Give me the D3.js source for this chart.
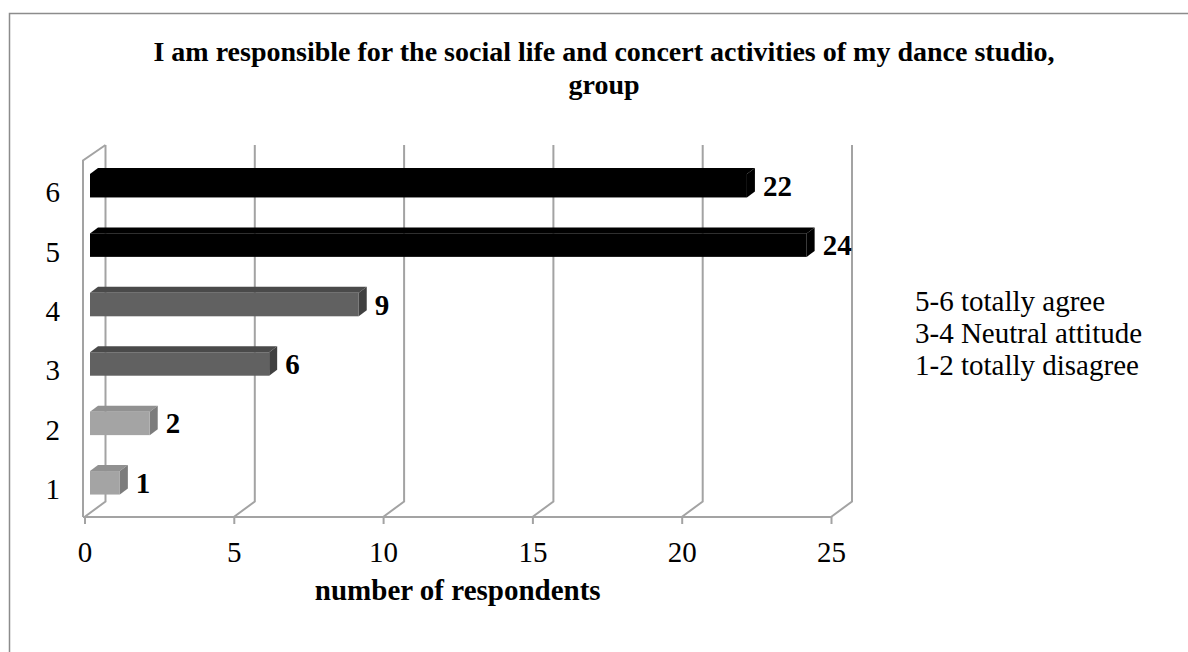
<!DOCTYPE html>
<html>
<head>
<meta charset="utf-8">
<script src="https://cdn.jsdelivr.net/npm/d3@7"></script>
<style>
    html, body { margin: 0; padding: 0; background: #fff; }
    svg { display: block; font-family: "Liberation Serif", "Times New Roman", serif; }
</style>
</head>
<body>
<div id="chart"></div>
<script>
const categories = ["1", "2", "3", "4", "5", "6"]
const values = [1, 2, 6, 9, 24, 22]
const groups = ["disagree", "disagree", "neutral", "neutral", "agree", "agree"]
const xTicks = [0, 5, 10, 15, 20, 25]
const titleLines = ["I am responsible for the social life and concert activities of my dance studio,", "group"]
const xTitle = "number of respondents"
const legendLines = ["5-6 totally agree", "3-4 Neutral attitude", "1-2 totally disagree"]

const width = 1188
const height = 652

// faces: front, top, side
const faceColors = {
    agree: ["#000000", "#000000", "#000000"],
    neutral: ["#616161", "#4a4a4a", "#404040"],
    disagree: ["#a4a4a4", "#919191", "#7c7c7c"],
}

const gridColor = "#a3a3a3"

// --- 3D geometry ---
const floorY = 517
const frontTop = 160.5
const depth = { x: 21, y: -15.5 } // wall / floor depth
const barOffset = { x: 5.5, y: -4.5 } // front of bar inside the depth
const barDepth = { x: 8, y: -6 }
const barHeight = 23.5

const x = d3.scaleLinear().domain([0, 25]).range([84.5, 831])
const y = d3.scaleBand().domain(categories).range([floorY, frontTop])

const svg = d3.select("#chart").append("svg").attr("width", width).attr("height", height)

// chart frame (runs off the right and bottom edges)
svg.append("rect")
    .attr("x", 9.5).attr("y", 13.5)
    .attr("width", 1190).attr("height", 660)
    .attr("fill", "none").attr("stroke", "#8c8c8c").attr("stroke-width", 1.5)

const grid = svg.append("g")
    .attr("fill", "none")
    .attr("stroke", gridColor)
    .attr("stroke-width", 2)

// left wall
grid.append("path")
    .attr("d", `M${x(0) - 1.5},${floorY} V${frontTop} L${x(0) + depth.x},${frontTop + depth.y}`)

// back wall gridlines plus floor diagonals
xTicks.forEach((t) => {
    const fx = x(t)
    grid.append("path")
        .attr("d", `M${fx},${floorY} L${fx + depth.x},${floorY + depth.y} V${frontTop + depth.y}`)
})

// floor front edge
grid.append("line")
    .attr("x1", x(0) - 1.5).attr("x2", x(25))
    .attr("y1", floorY).attr("y2", floorY)

// x axis ticks + labels
const xAxis = d3.axisBottom(x).tickValues(xTicks).tickSize(7).tickPadding(17).tickFormat(d3.format("d"))
const xAxisG = svg.append("g").attr("transform", `translate(0,${floorY})`).call(xAxis)
xAxisG.select(".domain").remove()
xAxisG.selectAll(".tick line").attr("stroke", gridColor).attr("stroke-width", 2)
xAxisG.selectAll(".tick text")
    .attr("fill", "#000")
    .style("font-family", "'Liberation Serif', 'Times New Roman', serif")
    .style("font-size", "29px")

// y labels
svg.append("g").selectAll("text")
    .data(categories)
    .enter()
    .append("text")
    .attr("x", 60)
    .attr("y", (d) => y(d) + y.bandwidth() / 2 + 12)
    .attr("text-anchor", "end")
    .style("font-size", "29px")
    .text((d) => d)

// bars
const barData = categories.map((c, i) => ({ cat: c, val: values[i], group: groups[i] }))

const bars = svg.append("g").selectAll("g")
    .data(barData)
    .enter()
    .append("g")

const frontBox = (d) => {
    const x0 = x(0) + barOffset.x
    const x1 = x(d.val) + barOffset.x
    const yc = y(d.cat) + y.bandwidth() / 2 + barOffset.y
    return { x0, x1, y0: yc - barHeight / 2, y1: yc + barHeight / 2 }
}

const pts = (arr) => arr.map((p) => p.join(",")).join(" ")

bars.append("polygon")
    .attr("fill", (d) => faceColors[d.group][1])
    .attr("points", (d) => {
        const b = frontBox(d)
        return pts([[b.x0, b.y0], [b.x1, b.y0], [b.x1 + barDepth.x, b.y0 + barDepth.y], [b.x0 + barDepth.x, b.y0 + barDepth.y]])
    })

bars.append("polygon")
    .attr("fill", (d) => faceColors[d.group][2])
    .attr("points", (d) => {
        const b = frontBox(d)
        return pts([[b.x1, b.y0], [b.x1 + barDepth.x, b.y0 + barDepth.y], [b.x1 + barDepth.x, b.y1 + barDepth.y], [b.x1, b.y1]])
    })

bars.append("rect")
    .attr("fill", (d) => faceColors[d.group][0])
    .attr("x", (d) => frontBox(d).x0)
    .attr("y", (d) => frontBox(d).y0)
    .attr("width", (d) => frontBox(d).x1 - frontBox(d).x0)
    .attr("height", barHeight)

// value labels
bars.append("text")
    .attr("x", (d) => frontBox(d).x1 + barDepth.x + 8)
    .attr("y", (d) => (frontBox(d).y0 + frontBox(d).y1) / 2 + 10)
    .style("font-size", "29px")
    .style("font-weight", "bold")
    .text((d) => d.val)

// title
svg.append("g").selectAll("text")
    .data(titleLines)
    .enter()
    .append("text")
    .attr("x", 604)
    .attr("y", (d, i) => 61 + i * 33)
    .attr("text-anchor", "middle")
    .style("font-size", "28px")
    .style("font-weight", "bold")
    .text((d) => d)

// axis title
svg.append("text")
    .attr("x", (x(0) + x(25)) / 2)
    .attr("y", 600)
    .attr("text-anchor", "middle")
    .style("font-size", "29px")
    .style("font-weight", "bold")
    .text(xTitle)

// legend text box
svg.append("g").selectAll("text")
    .data(legendLines)
    .enter()
    .append("text")
    .attr("x", 915)
    .attr("y", (d, i) => 311 + i * 32)
    .style("font-size", "29px")
    .text((d) => d)
</script>
</body>
</html>
